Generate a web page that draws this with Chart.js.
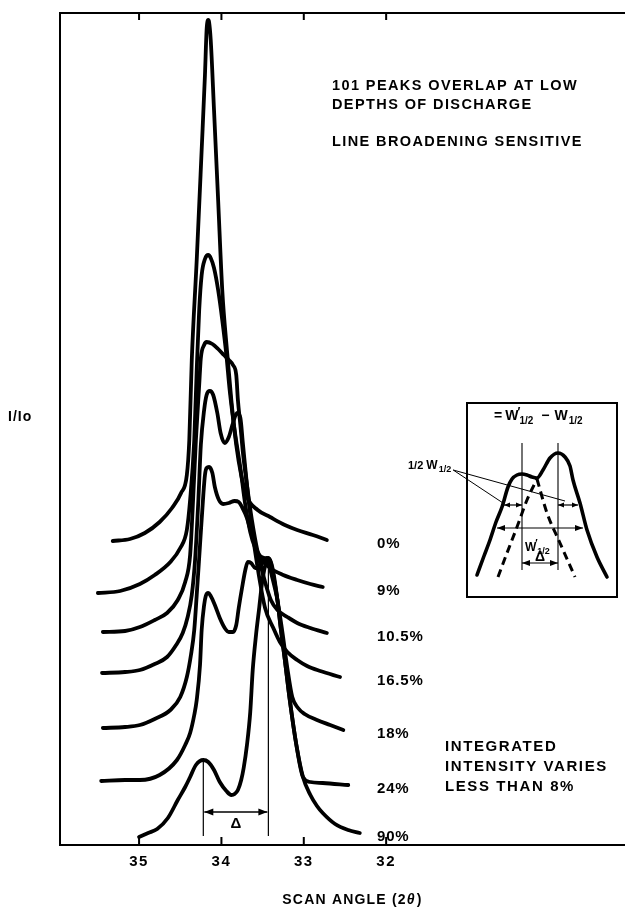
<!DOCTYPE html>
<html>
<head>
<meta charset="utf-8">
<title>Diffraction profiles vs depth of discharge</title>
<script src="https://cdn.jsdelivr.net/npm/chart.js@4/dist/chart.umd.min.js"></script>
<style>
  html, body { margin: 0; padding: 0; background: #fff; }
  #wrap { position: relative; width: 625px; height: 909px; overflow: hidden; }
  #main { position: absolute; left: 0; top: 0; width: 625px; height: 909px; }
  #inset { position: absolute; left: 400px; top: 395px; width: 225px; height: 210px; }
</style>
</head>
<body>
<div id="wrap">
  <canvas id="main" width="625" height="909"></canvas>
  <canvas id="inset" width="225" height="210"></canvas>
</div>
<script>
// Scan angle (2θ, degrees) vs stacked intensity (arbitrary units, offset per scan)
const scan0 = [[35.32,304],[35.11,306],[34.93,312],[34.75,323],[34.60,337],[34.49,352],[34.42,370],[34.39,405],[34.36,485],[34.30,585],[34.24,695],[34.20,770],[34.18,815],[34.16,825],[34.15,823],[34.13,805],[34.09,735],[34.04,645],[33.99,555],[33.93,492],[33.88,445],[33.82,400],[33.76,370],[33.69,348],[33.56,335],[33.41,328],[33.23,320],[33.08,315],[32.89,310],[32.72,305]];
const scan9 = [[35.50,252],[35.23,254],[34.99,261],[34.81,270],[34.62,283],[34.50,297],[34.42,315],[34.38,345],[34.33,405],[34.30,475],[34.27,535],[34.24,570],[34.20,586],[34.16,590],[34.13,587],[34.09,577],[34.04,555],[33.99,525],[33.94,490],[33.90,455],[33.84,415],[33.77,377],[33.71,340],[33.65,313],[33.59,297],[33.51,285],[33.41,277],[33.25,270],[33.08,265],[32.92,261],[32.77,258]];
const scan10_5 = [[35.44,213],[35.17,214],[34.99,218],[34.81,225],[34.66,232],[34.53,245],[34.44,263],[34.38,290],[34.35,335],[34.31,405],[34.27,460],[34.25,487],[34.21,500],[34.18,503],[34.11,501],[34.04,496],[33.97,490],[33.91,485],[33.86,480],[33.82,470],[33.80,445],[33.77,420],[33.74,393],[33.69,360],[33.63,325],[33.56,293],[33.47,263],[33.40,245],[33.32,235],[33.20,228],[33.08,222],[32.92,217],[32.72,212]];
const scan16_5 = [[35.45,172],[35.17,173],[34.99,175],[34.81,181],[34.66,188],[34.55,200],[34.47,212],[34.41,228],[34.36,250],[34.32,285],[34.28,345],[34.25,400],[34.21,435],[34.18,450],[34.14,454],[34.10,450],[34.05,432],[34.01,412],[33.96,402],[33.91,408],[33.86,422],[33.81,432],[33.77,427],[33.74,402],[33.69,360],[33.63,317],[33.56,277],[33.47,237],[33.37,217],[33.29,203],[33.20,193],[33.08,185],[32.96,179],[32.80,174],[32.56,168]];
const scan18 = [[35.44,117],[35.17,118],[34.99,120],[34.81,126],[34.62,135],[34.50,148],[34.42,168],[34.37,190],[34.33,215],[34.30,250],[34.26,300],[34.22,350],[34.20,370],[34.18,377],[34.15,378],[34.11,372],[34.08,358],[34.03,345],[33.98,341],[33.91,342],[33.84,344],[33.79,343],[33.75,338],[33.69,327],[33.63,310],[33.58,297],[33.53,289],[33.48,287],[33.43,282],[33.39,270],[33.32,245],[33.26,213],[33.20,177],[33.14,148],[33.07,137],[32.99,131],[32.84,125],[32.68,120],[32.52,115]];
const scan24 = [[35.46,64],[35.17,65],[34.99,65],[34.75,70],[34.54,85],[34.44,100],[34.38,112],[34.33,130],[34.30,145],[34.26,180],[34.24,215],[34.21,240],[34.19,249],[34.16,252],[34.13,249],[34.08,240],[34.02,227],[33.96,217],[33.91,213],[33.86,213],[33.82,220],[33.79,237],[33.75,257],[33.71,275],[33.68,283],[33.64,282],[33.59,277],[33.54,277],[33.50,283],[33.45,287],[33.41,285],[33.37,273],[33.32,245],[33.28,217],[33.23,185],[33.17,145],[33.09,100],[33.01,68],[32.92,63],[32.77,62],[32.46,60]];
const scan90 = [[35.00,8],[34.89,12],[34.78,16],[34.65,27],[34.53,45],[34.44,58],[34.38,68],[34.31,80],[34.22,85],[34.16,83],[34.09,75],[34.02,63],[33.94,54],[33.88,50],[33.84,51],[33.80,55],[33.76,65],[33.73,77],[33.69,100],[33.65,133],[33.62,175],[33.58,210],[33.54,238],[33.51,260],[33.47,279],[33.43,287],[33.40,282],[33.36,265],[33.32,245],[33.28,217],[33.23,185],[33.17,145],[33.09,100],[33.01,68],[32.92,50],[32.84,39],[32.77,32],[32.62,21],[32.46,15],[32.32,12]];

const depthLabels = ['0%', '9%', '10.5%', '16.5%', '18%', '24%', '90%'];
const scans = [scan0, scan9, scan10_5, scan16_5, scan18, scan24, scan90];
const angleTicks = [35, 34, 33, 32];

// Peak positions of the fully discharged scan and the splitting marker level
const splitPeaks = [34.22, 33.43];
const splitArrowLevel = 33;
const peakFoot = 9;

const topNotes = ['101 PEAKS OVERLAP AT LOW', 'DEPTHS OF DISCHARGE', '', 'LINE BROADENING SENSITIVE'];
const bottomNotes = ['INTEGRATED', 'INTENSITY VARIES', 'LESS THAN 8%'];

// Inset: schematic doublet (box units)
const insetEnvelope = [[10,22],[17,41],[23,57],[29,75],[35,90],[41,110],[45,118],[50,122],[55,123],[60,122],[65,120],[70,119],[76,127],[83,139],[91,144],[98,140],[103,131],[106,117],[113,94],[120,67],[130,40],[140,20]];
const insetRightComponent = [[31,20],[40,44],[50,70],[60,97],[70,118]];
const insetLeftComponent = [[70,118],[80,84],[93,54],[108,20]];
const insetPeaks = [55, 91];

const FONT = '"Liberation Sans", Arial, Helvetica, sans-serif';

function spacedText(ctx, text, x, y, size, spacing, align) {
  ctx.font = 'bold ' + size + 'px ' + FONT;
  ctx.letterSpacing = spacing + 'px';
  ctx.textAlign = align || 'left';
  ctx.textBaseline = 'middle';
  ctx.fillText(text, x, y);
  ctx.letterSpacing = '0px';
}

function arrowHead(ctx, x, y, dir, len, half) {
  ctx.beginPath();
  ctx.moveTo(x, y);
  ctx.lineTo(x - dir * len, y - half);
  ctx.lineTo(x - dir * len, y + half);
  ctx.closePath();
  ctx.fill();
}

function doubleArrow(ctx, x1, x2, y, len, half) {
  ctx.beginPath();
  ctx.moveTo(x1, y);
  ctx.lineTo(x2, y);
  ctx.stroke();
  arrowHead(ctx, x1, y, -1, len, half);
  arrowHead(ctx, x2, y, 1, len, half);
}

// draws "W" with optional prime and a "1/2" subscript
function wHalf(ctx, x, y, size, primed) {
  ctx.textAlign = 'left';
  ctx.textBaseline = 'alphabetic';
  ctx.font = 'bold ' + size + 'px ' + FONT;
  ctx.fillText('W', x, y);
  let w = ctx.measureText('W').width;
  if (primed) {
    ctx.font = 'bold ' + Math.round(size * 0.85) + 'px ' + FONT;
    ctx.fillText('\u2032', x + w - 1, y - size * 0.3);
  }
  ctx.font = 'bold ' + Math.round(size * 0.72) + 'px ' + FONT;
  ctx.fillText('1/2', x + w + 1, y + size * 0.28);
  return w + 1 + ctx.measureText('1/2').width;
}

const chartDecor = {
  id: 'chartDecor',
  afterDatasetsDraw(chart) {
    const { ctx, chartArea: a, scales: { x, y } } = chart;
    ctx.save();
    ctx.strokeStyle = '#000';
    ctx.fillStyle = '#000';

    // open frame: top, left and bottom edges
    ctx.lineWidth = 2;
    ctx.beginPath();
    ctx.moveTo(a.right, a.top);
    ctx.lineTo(a.left, a.top);
    ctx.lineTo(a.left, a.bottom);
    ctx.lineTo(a.right, a.bottom);
    ctx.stroke();

    // inward ticks on top and bottom edges, labels below
    angleTicks.forEach(t => {
      const px = x.getPixelForValue(t);
      ctx.beginPath();
      ctx.moveTo(px, a.top); ctx.lineTo(px, a.top + 7);
      ctx.moveTo(px, a.bottom); ctx.lineTo(px, a.bottom - 8);
      ctx.stroke();
      spacedText(ctx, String(t), px, a.bottom + 17, 15, 1.5, 'center');
    });

    // depth-of-discharge labels beside each scan's tail
    scans.forEach((s, i) => {
      const last = s[s.length - 1];
      spacedText(ctx, depthLabels[i], 377, y.getPixelForValue(last[1]) + 4, 15, 0.8, 'left');
    });

    // peak markers and separation arrow on the last scan
    const base = y.getPixelForValue(peakFoot);
    ctx.lineWidth = 1.2;
    const xs = splitPeaks.map(p => x.getPixelForValue(p));
    splitPeaks.forEach((p, k) => {
      const pt = scan90.find(d => d[0] === p);
      ctx.beginPath();
      ctx.moveTo(xs[k], y.getPixelForValue(pt[1]));
      ctx.lineTo(xs[k], base);
      ctx.stroke();
    });
    const ay = y.getPixelForValue(splitArrowLevel);
    ctx.lineWidth = 1.5;
    doubleArrow(ctx, xs[0] + 1, xs[1] - 1, ay, 9, 3.5);
    spacedText(ctx, '\u0394', (xs[0] + xs[1]) / 2, ay + 12, 15, 0, 'center');

    // annotations
    topNotes.forEach((t, i) => { if (t) spacedText(ctx, t, 332, 86 + i * 18.7, 14.5, 1.4, 'left'); });
    bottomNotes.forEach((t, i) => spacedText(ctx, t, 445, 747 + i * 20, 15, 1.6, 'left'));

    spacedText(ctx, 'I/Io', 8, 417, 14, 1, 'left');

    // x-axis title with italic theta
    ctx.font = 'bold 14px ' + FONT;
    ctx.letterSpacing = '1.2px';
    const p1 = 'SCAN ANGLE (2';
    const w1 = ctx.measureText(p1).width;
    ctx.font = 'italic bold 14px ' + FONT;
    const w2 = ctx.measureText('\u03b8').width;
    ctx.font = 'bold 14px ' + FONT;
    const w3 = ctx.measureText(')').width;
    let tx = 352 - (w1 + w2 + w3) / 2;
    ctx.textAlign = 'left'; ctx.textBaseline = 'middle';
    ctx.fillText(p1, tx, 900);
    ctx.font = 'italic bold 14px ' + FONT;
    ctx.fillText('\u03b8', tx + w1, 900);
    ctx.font = 'bold 14px ' + FONT;
    ctx.fillText(')', tx + w1 + w2 + 1, 900);
    ctx.letterSpacing = '0px';
    ctx.restore();
  }
};

new Chart(document.getElementById('main'), {
  type: 'line',
  data: {
    datasets: scans.map((s, i) => ({
      label: depthLabels[i],
      data: s.map(d => ({ x: d[0], y: d[1] })),
      borderColor: '#000',
      borderWidth: 3.8,
      pointRadius: 0,
      fill: false,
      cubicInterpolationMode: 'monotone',
      borderCapStyle: 'round',
      borderJoinStyle: 'round'
    }))
  },
  options: {
    responsive: false,
    animation: false,
    devicePixelRatio: 1,
    layout: { padding: { left: 60, top: 13, right: 0, bottom: 64 } },
    plugins: { legend: { display: false }, tooltip: { enabled: false } },
    scales: {
      x: { type: 'linear', reverse: true, min: 29.1, max: 35.96, display: false },
      y: { type: 'linear', min: 0, max: 832, display: false }
    }
  },
  plugins: [chartDecor]
});

const insetDecor = {
  id: 'insetDecor',
  afterDatasetsDraw(chart) {
    const { ctx, chartArea: a, scales: { x, y } } = chart;
    ctx.save();
    ctx.strokeStyle = '#000';
    ctx.fillStyle = '#000';
    ctx.lineWidth = 2;
    ctx.strokeRect(a.left, a.top, a.right - a.left, a.bottom - a.top);

    // component peak positions
    ctx.lineWidth = 1.1;
    insetPeaks.forEach(p => {
      const px = x.getPixelForValue(p);
      ctx.beginPath();
      ctx.moveTo(px, y.getPixelForValue(154));
      ctx.lineTo(px, y.getPixelForValue(27));
      ctx.stroke();
    });

    // full width at half maximum
    ctx.lineWidth = 1.2;
    doubleArrow(ctx, x.getPixelForValue(30), x.getPixelForValue(116), y.getPixelForValue(69), 8, 3);
    // half widths of each component
    doubleArrow(ctx, x.getPixelForValue(37), x.getPixelForValue(55), y.getPixelForValue(92), 6, 2.5);
    doubleArrow(ctx, x.getPixelForValue(91), x.getPixelForValue(111), y.getPixelForValue(92), 6, 2.5);
    // separation
    doubleArrow(ctx, x.getPixelForValue(55), x.getPixelForValue(91), y.getPixelForValue(34), 8, 3);

    ctx.font = 'bold 14px ' + FONT;
    ctx.textAlign = 'center'; ctx.textBaseline = 'alphabetic';
    ctx.fillText('\u0394', x.getPixelForValue(73), y.getPixelForValue(36));

    // W'1/2 inside, between the peaks
    wHalf(ctx, x.getPixelForValue(58), y.getPixelForValue(46), 12, true);

    // relation at the top of the box
    let tx = x.getPixelForValue(27);
    const ty = y.getPixelForValue(177);
    ctx.font = 'bold 14px ' + FONT;
    ctx.textAlign = 'left';
    ctx.fillText('=', tx, ty);
    tx += ctx.measureText('=').width + 3;
    tx += wHalf(ctx, tx, ty, 14, true) + 8;
    ctx.font = 'bold 14px ' + FONT;
    ctx.fillText('\u2212', tx, ty);
    tx += ctx.measureText('\u2212').width + 5;
    wHalf(ctx, tx, ty, 14, false);

    // "1/2 W1/2" callout to the left of the box
    const lx = 8, ly = 74;
    ctx.font = 'bold 11px ' + FONT;
    ctx.fillText('1/2', lx, ly);
    const w0 = ctx.measureText('1/2 ').width;
    const wl = wHalf(ctx, lx + w0, ly, 12, false);
    const sx = lx + w0 + wl + 2, sy = ly + 1;
    ctx.lineWidth = 1;
    ctx.beginPath();
    ctx.moveTo(sx, sy); ctx.lineTo(x.getPixelForValue(36), y.getPixelForValue(94));
    ctx.moveTo(sx, sy); ctx.lineTo(x.getPixelForValue(98), y.getPixelForValue(96));
    ctx.stroke();
    ctx.restore();
  }
};

new Chart(document.getElementById('inset'), {
  type: 'line',
  data: {
    datasets: [
      { data: insetEnvelope.map(d => ({ x: d[0], y: d[1] })), borderWidth: 3.6, borderCapStyle: 'round' },
      { data: insetRightComponent.map(d => ({ x: d[0], y: d[1] })), borderWidth: 3, borderDash: [8, 5] },
      { data: insetLeftComponent.map(d => ({ x: d[0], y: d[1] })), borderWidth: 3, borderDash: [8, 5] }
    ].map(ds => Object.assign(ds, { borderColor: '#000', pointRadius: 0, fill: false, cubicInterpolationMode: 'monotone' }))
  },
  options: {
    responsive: false,
    animation: false,
    devicePixelRatio: 1,
    layout: { padding: { left: 67, top: 8, right: 8, bottom: 8 } },
    plugins: { legend: { display: false }, tooltip: { enabled: false } },
    scales: {
      x: { type: 'linear', min: 0, max: 150, display: false },
      y: { type: 'linear', min: 0, max: 194, display: false }
    }
  },
  plugins: [insetDecor]
});
</script>
</body>
</html>
